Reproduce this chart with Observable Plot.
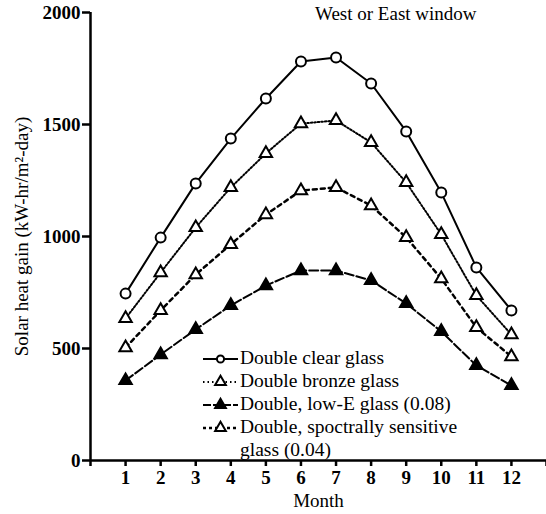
<!DOCTYPE html>
<html>
<head>
<meta charset="utf-8">
<script src="https://cdn.jsdelivr.net/npm/d3@7"></script>
<script src="https://cdn.jsdelivr.net/npm/@observablehq/plot@0.6"></script>
<style>
  body { margin: 0; background: white; font-family: "Liberation Serif", "Times New Roman", serif; color: black; }
  #wrap { position: relative; width: 546px; height: 514px; }
  .ov { position: absolute; color: black; white-space: nowrap; font-family: "Liberation Serif", serif; }
  #legend { position: absolute; left: 202px; top: 346px; font-size: 19.5px; line-height: 23px; font-family: "Liberation Serif", serif; color: black; }
  #legend .row { display: flex; align-items: center; height: 23px; }
  #legend svg { display: block; margin-right: 1px; }
  svg text { font-family: "Liberation Serif", serif; fill: black; }
</style>
</head>
<body>
<div id="wrap"></div>
<script>
const months = [1, 2, 3, 4, 5, 6, 7, 8, 9, 10, 11, 12];
const clearGlass    = [745, 995, 1237, 1437, 1616, 1781, 1799, 1683, 1469, 1196, 862, 670];
const bronzeGlass   = [634, 839, 1040, 1219, 1371, 1504, 1518, 1420, 1241, 1009, 737, 562];
const lowEGlass     = [357, 473, 585, 692, 781, 848, 848, 804, 701, 576, 424, 335];
const spectralGlass = [504, 670, 830, 965, 1098, 1205, 1219, 1138, 996, 812, 594, 464];
const legendLabels = ["Double clear glass", "Double bronze glass", "Double, low-E glass (0.08)", "Double, spoctrally sensitive", "glass (0.04)"];
const yTicks = [0, 500, 1000, 1500, 2000];
const xTicks = [0, 1, 2, 3, 4, 5, 6, 7, 8, 9, 10, 11, 12, 13];
const title = "West or East window";
const FONT = "Liberation Serif";

const toRows = vals => months.map((m, i) => ({month: m, value: vals[i]}));
const datasets = [toRows(clearGlass), toRows(bronzeGlass), toRows(lowEGlass), toRows(spectralGlass)];

const styles = [
  {dash: null, width: 2, symbol: "circle", r: 5, fill: "white"},
  {dash: "1.5,2", width: 2, symbol: "triangle", r: 4.6, fill: "white"},
  {dash: "9,3", width: 2, symbol: "triangle", r: 4.6, fill: "black"},
  {dash: "4,4", width: 2.5, symbol: "triangle", r: 4.6, fill: "white"}
];

const marks = [];
datasets.forEach((data, k) => {
  const s = styles[k];
  marks.push(Plot.line(data, {x: "month", y: "value", stroke: "black", strokeWidth: s.width, strokeDasharray: s.dash}));
});
datasets.forEach((data, k) => {
  const s = styles[k];
  marks.push(Plot.dot(data, {x: "month", y: "value", symbol: s.symbol, r: s.r, stroke: "black", strokeWidth: 2, fill: s.fill}));
});

const chart = Plot.plot({
  width: 546, height: 514,
  marginLeft: 90, marginRight: 0, marginTop: 12, marginBottom: 54,
  x: {domain: [0, 13]},
  y: {domain: [0, 2000]},
  style: {fontFamily: FONT, color: "black", background: "white", overflow: "visible"},
  marks: [
    Plot.axisY({ticks: yTicks, tickSize: 8, tickPadding: 2, fontSize: 19, fontWeight: "bold", fontFamily: FONT, color: "black", tickFormat: d => String(d), label: null, strokeWidth: 2.5}),
    Plot.axisY({ticks: [], tickSize: 0, label: "Solar heat gain (kW-hr/m²-day)", labelAnchor: "center", labelArrow: "none", labelOffset: 76, fontSize: 19, fontFamily: FONT, color: "black"}),
    Plot.axisX({ticks: xTicks, tickSize: 6, tickPadding: 4, fontSize: 19, fontWeight: "bold", fontFamily: FONT, color: "black", tickFormat: d => (d >= 1 && d <= 12) ? String(d) : "", label: null, strokeWidth: 2.5}),
    Plot.axisX({ticks: [], tickSize: 0, label: "Month", labelAnchor: "center", labelArrow: "none", labelOffset: 46, fontSize: 19, fontFamily: FONT, color: "black"}),
    Plot.ruleX([0], {stroke: "black", strokeWidth: 2.5}),
    Plot.ruleY([0], {stroke: "black", strokeWidth: 2.5}),
    ...marks
  ]
});
const wrap = document.getElementById("wrap");
wrap.appendChild(chart);

const t = document.createElement("div");
t.className = "ov";
t.style.cssText = "left:315px;top:3px;font-size:19px;";
t.textContent = title;
wrap.appendChild(t);

// legend
const legend = document.createElement("div");
legend.id = "legend";
function sample(s) {
  const ns = "http://www.w3.org/2000/svg";
  const svg = document.createElementNS(ns, "svg");
  svg.setAttribute("width", 37); svg.setAttribute("height", 20);
  const line = document.createElementNS(ns, "line");
  line.setAttribute("x1", 1); line.setAttribute("x2", 36); line.setAttribute("y1", 11); line.setAttribute("y2", 11);
  line.setAttribute("stroke", "black"); line.setAttribute("stroke-width", s.width);
  if (s.dash) line.setAttribute("stroke-dasharray", s.k === 1 ? "1.5,3" : (s.k === 2 ? "8,2" : "3,3"));
  svg.appendChild(line);
  const path = document.createElementNS(ns, "path");
  const sym = s.symbol === "circle" ? d3.symbolCircle : d3.symbolTriangle;
  const size = s.symbol === "circle" ? 40 : 50;
  path.setAttribute("d", d3.symbol(sym, size)());
  path.setAttribute("transform", "translate(18.5,11)");
  path.setAttribute("fill", s.fill); path.setAttribute("stroke", "black"); path.setAttribute("stroke-width", 2);
  svg.appendChild(path);
  return svg;
}
legendLabels.forEach((lab, i) => {
  const row = document.createElement("div");
  row.className = "row";
  if (i < 4) {
    row.appendChild(sample({...styles[i], k: i}));
  } else {
    const sp = document.createElement("span");
    sp.style.display = "inline-block"; sp.style.width = "38px";
    row.appendChild(sp);
  }
  const tx = document.createElement("span");
  tx.textContent = lab;
  row.appendChild(tx);
  legend.appendChild(row);
});
wrap.appendChild(legend);
</script>
</body>
</html>
